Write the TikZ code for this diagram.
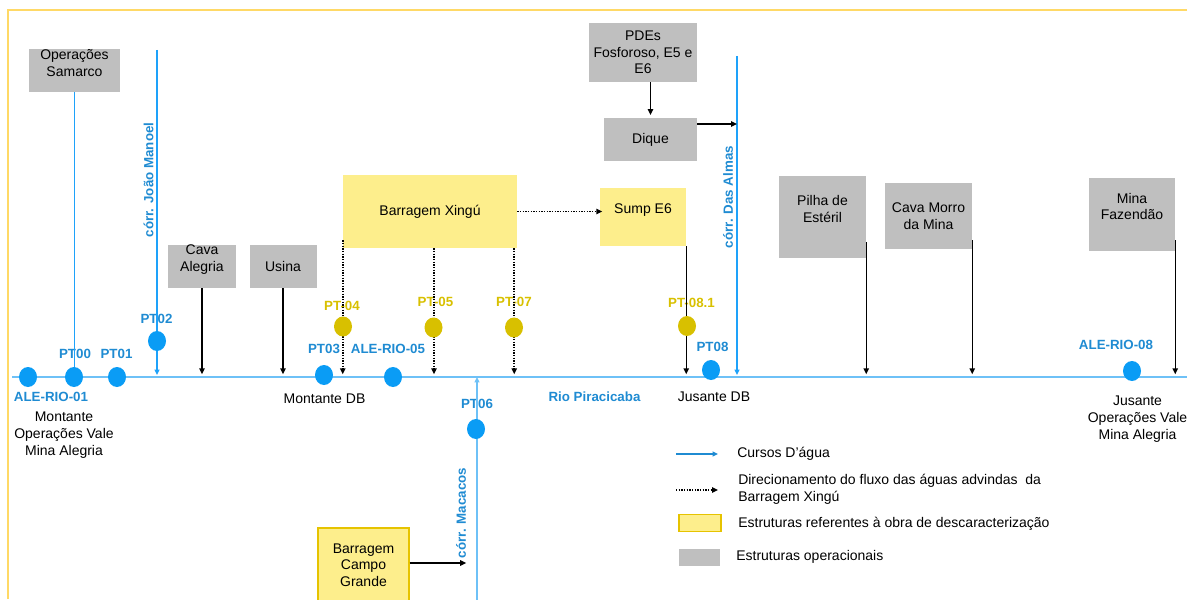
\documentclass[tikz,border=0pt]{standalone}
\usepackage{fontspec}
\setmainfont{Liberation Sans}
\usepackage{tikz}
\usetikzlibrary{arrows.meta}
\usetikzlibrary{shapes.geometric}
\usetikzlibrary{positioning}

\definecolor{opgray}{HTML}{BFBFBF}
\definecolor{xyellow}{HTML}{FDEE8C}
\definecolor{xborder}{HTML}{E6C300}
\definecolor{ptblue}{HTML}{0A9CF5}
\definecolor{ptgold}{HTML}{D8C000}
\definecolor{lblblue}{HTML}{1F8BD2}
\definecolor{streamblue}{HTML}{1EA2FA}
\definecolor{riverblue}{HTML}{6EC1F7}
\definecolor{framegold}{HTML}{FFD966}

\tikzset{
  txt/.style={font=\fontsize{10.5}{12.5}\selectfont, align=center, inner sep=0pt},
  opbox/.style={txt, fill=opgray},
  xbox/.style={txt, fill=xyellow},
  ptdot/.style={ellipse, fill=ptblue, minimum width=13.5pt, minimum height=15pt, inner sep=0pt},
  ptdotgold/.style={ptdot, fill=ptgold},
  ptlbl/.style={font=\bfseries\fontsize{10}{12}\selectfont, text=lblblue, inner sep=0pt},
  ptlblgold/.style={ptlbl, text=ptgold},
  stream/.style={draw=streamblue, line width=1.4pt},
  streamflow/.style={stream, -{Triangle[length=4pt,width=3.5pt]}, shorten >=1.5pt},
  river/.style={draw=riverblue, line width=1.5pt},
  flow/.style={-{Triangle[length=4.5pt,width=4pt]}, line width=1.1pt, shorten >=2pt},
  dotflow/.style={flow, line width=1.3pt, dash pattern=on 1pt off 1pt},
}

\begin{document}
\begin{tikzpicture}[x=0.75pt,y=-0.75pt]
    \useasboundingbox (0,0) rectangle (1187,599);
    % frame
    \draw[framegold, line width=1.5pt] (8,599) -- (8,10) -- (1187,10);

    % operational structures
    \node[opbox, minimum width=68.25pt, minimum height=32.25pt, text depth=11.5pt] (samarco) at (74.5,70.5) {Operações\\Samarco};
    \node[opbox, minimum width=51pt, minimum height=32.25pt, text depth=12.5pt] (cavaalegria) at (202,266.5) {Cava\\Alegria};
    \node[opbox, minimum width=50.25pt, minimum height=32.25pt] (usina) at (283,266.5) {Usina};
    \node[opbox, minimum width=81pt, minimum height=44.25pt] (pdes) at (643,52.5) {PDEs\\Fosforoso, E5 e\\E6};
    \node[opbox, minimum width=69.75pt, minimum height=32.25pt] (dique) at (650.5,139.5) {Dique};
    \node[opbox, minimum width=65.25pt, minimum height=61.5pt, text depth=12pt] (pilha) at (822.5,217) {Pilha de\\Estéril};
    \node[opbox, minimum width=65.25pt, minimum height=49.5pt] (morro) at (928.5,216) {Cava Morro\\da Mina};
    \node[opbox, minimum width=64.5pt, minimum height=54.75pt, text depth=12pt] (fazendao) at (1132,214.5) {Mina\\Fazendão};

    % decharacterization structures
    \node[xbox, minimum width=130.5pt, minimum height=54.75pt] (xingu) at (430,211.5) {Barragem Xingú};
    \node[xbox, minimum width=64.5pt, minimum height=43.5pt, text depth=12pt] (sump) at (643,217) {Sump E6};
    \node[xbox, draw=xborder, line width=0.8pt, minimum width=68.25pt, minimum height=55.5pt] (campo) at (363.5,565) {Barragem\\Campo\\Grande};

    % labels points
    \node[ptlbl] (alerio01lbl) at (51,397) {ALE-RIO-01};
    \node[ptlbl] (pt00lbl) at (75,354) {PT00};
    \node[ptlbl] (pt01lbl) at (116.5,354) {PT01};
    \node[ptlbl] (pt02lbl) at (156.5,319) {PT02};
    \node[ptlbl] (pt03lbl) at (324,349) {PT03};
    \node[ptlbl] (alerio05lbl) at (388,349) {ALE-RIO-05};
    \node[ptlbl] (pt06lbl) at (477,404) {PT06};
    \node[ptlbl] (pt08lbl) at (712.5,347) {PT08};
    \node[ptlbl] (alerio08lbl) at (1116,345) {ALE-RIO-08};
    \node[ptlblgold] (pt04lbl) at (342,305.5) {PT-04};
    \node[ptlblgold] (pt05lbl) at (435.5,302) {PT-05};
    \node[ptlblgold] (pt07lbl) at (514,302) {PT-07};
    \node[ptlblgold] (pt081lbl) at (691.5,303) {PT-08.1};

    % labels streams
    \node[ptlbl, rotate=90] (joaolbl) at (148.5,180) {córr. João Manoel};
    \node[ptlbl, rotate=90] (almaslbl) at (728,197) {córr. Das Almas};
    \node[ptlbl, rotate=90] (macacoslbl) at (461,513) {córr. Macacos};
    \node[ptlbl] (riolbl) at (594.5,397) {Rio Piracicaba};

    % labels places
    \node[txt] (montantelbl) at (64,435) {Montante\\Operações Vale\\Mina Alegria};
    \node[txt] (montantedb) at (324.5,399) {Montante DB};
    \node[txt] (jusantedb) at (714,397) {Jusante DB};
    \node[txt] (jusantelbl) at (1137.5,419) {Jusante\\Operações Vale\\Mina Alegria};

    % draw streams
    \coordinate (rivW) at (12,377);
    \coordinate (rivE) at (1187,377);
    \coordinate (joaoT) at (157,50);
    \coordinate (almasT) at (737,56);
    \coordinate (macacosB) at (477,610);
    \draw[river] (rivW) -- (rivE);
    \draw[stream] (samarco.south) -- (samarco.south |- rivW);
    \draw[streamflow] (joaoT) -- (joaoT |- rivW);
    \draw[streamflow] (almasT) -- (almasT |- rivW);
    \draw[streamflow, draw=riverblue, line width=1.2pt, shorten >=0pt] (macacosB) -- (macacosB |- rivW);

    % draw flows
    \draw[flow] (dique.north |- pdes.south) -- (dique.north);
    \draw[flow, shorten >=0pt] ([yshift=11.6pt]dique.east) -- ([yshift=11.6pt]dique.east -| almasT);
    \draw[flow] (cavaalegria.south) -- (cavaalegria.south |- rivW);
    \draw[flow] (usina.south) -- (usina.south |- rivW);
    \draw[flow] (sump.south east) -- (sump.south east |- rivW);
    \draw[flow] ([yshift=12pt]pilha.south east) -- (pilha.south east |- rivW);
    \draw[flow] ([yshift=6.75pt]morro.south east) -- (morro.south east |- rivW);
    \draw[flow] ([yshift=8.25pt]fazendao.south east) -- (fazendao.south east |- rivW);
    \draw[flow, shorten >=0pt] ([yshift=1.5pt]campo.east) -- ([yshift=1.5pt]campo.east -| macacoslbl.south);

    % draw Xingu flows
    \draw[dotflow, shorten >=-2pt] (xingu.east) -- (xingu.east -| sump.west);
    \draw[dotflow] ([yshift=6pt]xingu.south west) -- (xingu.south west |- rivW);
    \draw[dotflow] ([xshift=3pt]xingu.south) -- ([xshift=3pt]xingu.south |- rivW);
    \draw[dotflow] ([xshift=-2.25pt]xingu.south east) -- ([xshift=-2.25pt]xingu.south east |- rivW);

    % draw points
    \node[ptdot] (alerio01) at (28,377) {};
    \node[ptdot] (pt00) at (74,377) {};
    \node[ptdot] (pt01) at (117,377) {};
    \node[ptdot] (pt02) at (157,341) {};
    \node[ptdot] (pt03) at (324,375) {};
    \node[ptdot] (alerio05) at (393,377) {};
    \node[ptdot] (pt06) at (476,429) {};
    \node[ptdot] (pt08) at (711,370) {};
    \node[ptdot] (alerio08) at (1132,371) {};
    \node[ptdotgold] (pt04) at (343,326.5) {};
    \node[ptdotgold] (pt05) at (433.5,327.5) {};
    \node[ptdotgold] (pt07) at (514,327.5) {};
    \node[ptdotgold] (pt081) at (687,326) {};

    % legend
    \coordinate (legstreamA) at (676,454);
    \coordinate (legstreamB) at (718,454);
    \coordinate (legflowA) at (676,490);
    \coordinate (legflowB) at (718,490);
    \draw[streamflow, draw=lblblue, line width=1.1pt, shorten >=0pt] (legstreamA) -- (legstreamB);
    \draw[dotflow, line width=1pt, shorten >=0pt] (legflowA) -- (legflowB);
    \node[xbox, draw=xborder, line width=0.8pt, minimum width=31.5pt, minimum height=13pt] (legx) at (700,523) {};
    \node[opbox, minimum width=30.75pt, minimum height=12.75pt] (legop) at (699.5,557.5) {};
    \node[txt, anchor=west] (legstreamlbl) at (737,454) {Cursos D’água};
    \node[txt, anchor=west, align=left] (legflowlbl) at (738,489) {Direcionamento do fluxo das águas advindas~ da\\Barragem Xingú};
    \node[txt, anchor=west] (legxlbl) at (738,523.5) {Estruturas referentes à obra de descaracterização};
    \node[txt, anchor=west] (legoplbl) at (736,557) {Estruturas operacionais};
\end{tikzpicture}
\end{document}
